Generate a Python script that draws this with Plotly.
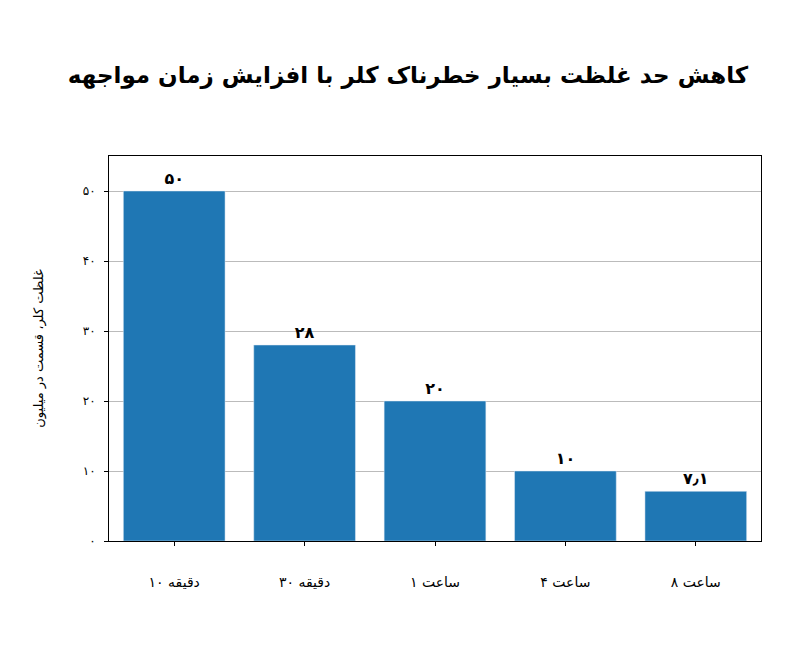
import plotly.graph_objects as go

LRI, PDI = "\u2066", "\u2069"
categories = [LRI + "۱۰" + PDI + " دقیقه", LRI + "۳۰" + PDI + " دقیقه", LRI + "۱" + PDI + " ساعت",
              LRI + "۴" + PDI + " ساعت", LRI + "۸" + PDI + " ساعت"]
values = [50, 28, 20, 10, 7.1]
value_labels = ["۵۰", "۲۸", "۲۰", "۱۰", "۷٫۱"]
tick_vals = [0, 10, 20, 30, 40, 50]
tick_text = ["۰", "۱۰", "۲۰", "۳۰", "۴۰", "۵۰"]

fig = go.Figure(go.Bar(
    x=categories, y=values, marker_color="#1f77b4", width=0.78,
    text=value_labels, textposition="outside", cliponaxis=False,
    textfont=dict(size=16, color="black", family="DejaVu Sans", weight="bold"),
))
fig.update_layout(
    width=800, height=666, plot_bgcolor="white", paper_bgcolor="white",
    font=dict(family="DejaVu Sans", color="black"),
    title=dict(text="<b>کاهش حد غلظت بسیار خطرناک کلر با افزایش زمان مواجهه</b>",
               x=0.5, xanchor="center", y=0.9, yanchor="middle", font=dict(size=23)),
    margin=dict(l=101, r=47, t=148, b=133),
    showlegend=False,
)
fig.update_xaxes(showline=True, linecolor="black", mirror=True, ticks="outside",
                 ticklen=4, tickcolor="black", tickfont=dict(size=14),
                 ticklabelstandoff=24)
fig.update_yaxes(range=[0, 55], tickvals=tick_vals, ticktext=tick_text,
                 showgrid=True, gridcolor="#bbbbbb", showline=True, linecolor="black",
                 mirror=True, ticks="outside", ticklen=4, tickcolor="black",
                 tickfont=dict(size=12), zeroline=False, ticklabelstandoff=6,
                 title=dict(text="غلظت کلر، قسمت در میلیون", font=dict(size=13), standoff=36))
fig.write_html("out.html")
